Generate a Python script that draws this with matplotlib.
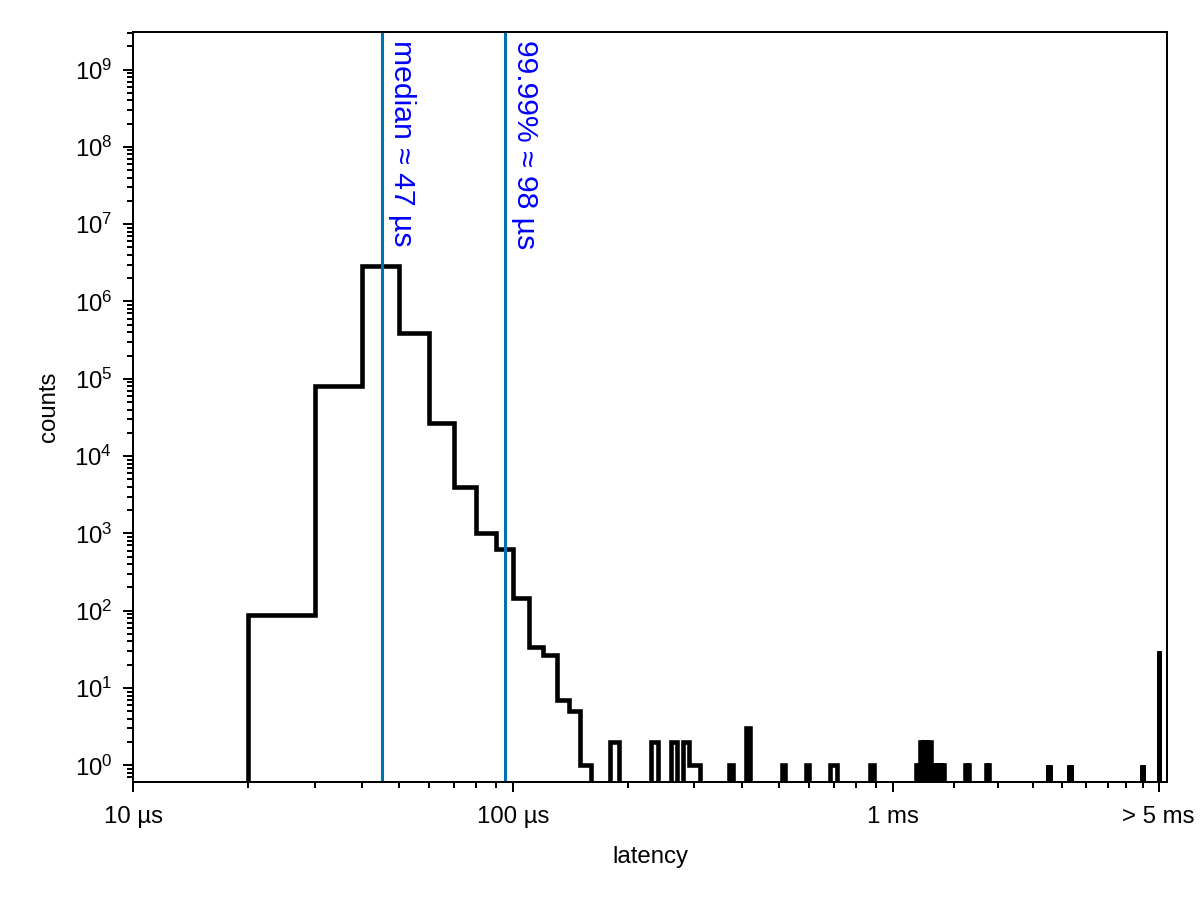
import numpy as np
import matplotlib
matplotlib.use("Agg")
import matplotlib.pyplot as plt
from matplotlib import transforms
from matplotlib.ticker import FixedLocator, FixedFormatter

plt.rcParams['font.family'] = ['Liberation Sans', 'DejaVu Sans']
plt.rcParams['mathtext.fontset'] = 'custom'
plt.rcParams['mathtext.rm'] = 'Liberation Sans'
plt.rcParams['mathtext.it'] = 'Liberation Sans:italic'
plt.rcParams['mathtext.bf'] = 'Liberation Sans:bold'
plt.rcParams['mathtext.default'] = 'rm'

# ---------------- data ----------------
bin_width_us = 10
first_edge_us = 10
last_edge_us = 5010

# main body of the latency histogram (bin start in µs -> counts)
main_bin_starts = [20, 30, 40, 50, 60, 70, 80, 90, 100, 110, 120, 130, 140, 150]
main_counts = [88, 80000, 2900000, 395000, 27000, 4000, 1000, 625, 148, 34, 27, 7, 5, 1]

# sparse tail (bin start in µs -> counts); last bin is the "> 5 ms" overflow
tail_bin_starts = [180, 230, 260, 280, 290, 300, 370, 410, 510, 590, 680, 690, 700,
                   870, 880, 1150, 1170, 1180, 1200, 1220, 1240, 1250, 1270, 1290,
                   1310, 1330, 1350, 1550, 1570, 1760, 1780, 2550, 2580, 2900, 2930,
                   4520, 4550, 5000]
tail_counts = [2, 2, 2, 2, 1, 1, 1, 3, 1, 1, 1, 1, 1,
               1, 1, 1, 1, 2, 2, 2, 2, 2, 1, 1,
               1, 1, 1, 1, 1, 1, 1, 1, 1, 1, 1,
               1, 1, 30]

quantile_positions_us = [45.2, 95.3]
quantile_labels = ["median \u2248 47 \u00b5s", "99.99% \u2248 98 \u00b5s"]

x_major_ticks = [10, 100, 1000, 5000]
x_major_labels = ["10 \u00b5s", "100 \u00b5s", "1 ms", "> 5 ms"]
y_tick_exponents = list(range(0, 10))

x_limits = (10, 5270)
y_limits = (0.614, 3.03e9)

# ---------------- build histogram ----------------
edges = np.arange(first_edge_us, last_edge_us + bin_width_us, bin_width_us)
counts = np.zeros(len(edges) - 1)
for s, c in zip(main_bin_starts + tail_bin_starts, main_counts + tail_counts):
    counts[(s - first_edge_us) // bin_width_us] = c

# ---------------- figure ----------------
fig = plt.figure(figsize=(12, 9), dpi=100)
ax = fig.add_axes([0.1111, 0.1314, 0.9728 - 0.1111, 0.9641 - 0.1314])
ax.set_xscale('log')
ax.set_yscale('log')

ax.stairs(counts, edges, color='black', linewidth=3.3, baseline=0,
          fill=False, joinstyle='miter')

for v, lab in zip(quantile_positions_us, quantile_labels):
    ax.axvline(v, color='#0072B2', linewidth=2.2)
    trans = transforms.offset_copy(ax.get_xaxis_transform(), fig=fig,
                                   x=6, y=0, units='dots')
    ax.text(v, 0.9897, lab, transform=trans, rotation=-90, ha='left', va='top',
            color='blue', fontsize=21.7)

ax.set_xlim(*x_limits)
ax.set_ylim(*y_limits)

# x ticks
x_minor = []
for a, b in zip(x_major_ticks[:-1], x_major_ticks[1:]):
    step = (b - a) / 9
    x_minor += [a + step * k for k in range(1, 9)]
ax.xaxis.set_major_locator(FixedLocator(x_major_ticks))
ax.xaxis.set_major_formatter(FixedFormatter(x_major_labels))
ax.xaxis.set_minor_locator(FixedLocator(x_minor))
ax.xaxis.set_minor_formatter(FixedFormatter([]))

# y ticks
y_major = [10.0 ** e for e in y_tick_exponents]
ax.yaxis.set_major_locator(FixedLocator(y_major))
ax.yaxis.set_major_formatter(FixedFormatter([f"$10^{{{e}}}$" for e in y_tick_exponents]))
y_minor = [m * 10.0 ** e for e in range(-1, 10) for m in range(2, 10)]
ax.yaxis.set_minor_locator(FixedLocator(y_minor))
ax.yaxis.set_minor_formatter(FixedFormatter([]))

ax.tick_params(which='major', length=7.2, width=1.44, direction='out',
               labelsize=17.3, color='black')
ax.tick_params(which='minor', length=4.3, width=1.44, direction='out', color='black')
ax.tick_params(axis='x', which='major', pad=10)
ax.tick_params(axis='y', which='major', pad=8)
for sp in ax.spines.values():
    sp.set_linewidth(1.44)

ax.set_xlabel('latency', fontsize=17.3, labelpad=13)
ax.set_ylabel('counts', fontsize=17.3, labelpad=10.5)

fig.savefig('out.png', dpi=100)
